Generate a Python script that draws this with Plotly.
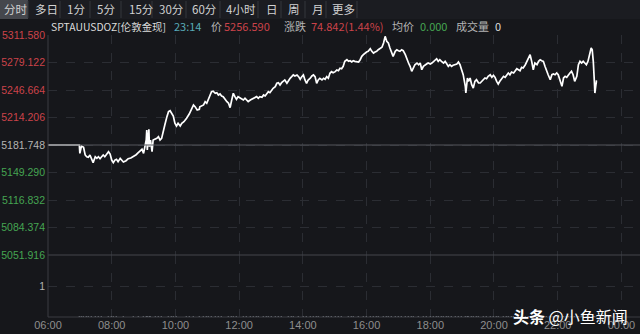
import plotly.graph_objects as go

# ---------------- data ----------------
trade_date = "2025-01-01"
times = [
    "06:00", "06:59", "07:00", "07:03", "07:07", "07:10", "07:13", "07:16", "07:19", "07:22",
    "07:25", "07:29", "07:32", "07:35", "07:38", "07:41", "07:44", "07:47", "07:51", "07:54",
    "07:57", "08:00", "08:03", "08:06", "08:09", "08:12", "08:16", "08:19", "08:22", "08:27",
    "08:31", "08:36", "08:41", "08:46", "08:50", "08:53", "08:57", "09:00", "09:03", "09:05",
    "09:06", "09:07", "09:10", "09:11", "09:13", "09:16", "09:18", "09:22", "09:25", "09:28",
    "09:31", "09:34", "09:37", "09:40", "09:44", "09:47", "09:50", "09:53", "09:56", "09:59",
    "10:02", "10:05", "10:09", "10:12", "10:16", "10:21", "10:26", "10:31", "10:34", "10:37",
    "10:41", "10:45", "10:46", "10:53", "10:56", "10:59", "11:02", "11:05", "11:08", "11:11",
    "11:15", "11:18", "11:21", "11:24", "11:27", "11:30", "11:33", "11:37", "11:40", "11:43",
    "11:46", "11:49", "11:52", "11:55", "11:58", "12:02", "12:05", "12:08", "12:11", "12:14",
    "12:17", "12:21", "12:24", "12:27", "12:30", "12:33", "12:36", "12:39", "12:43", "12:46",
    "12:49", "12:52", "12:55", "12:58", "13:01", "13:04", "13:08", "13:11", "13:14", "13:17",
    "13:20", "13:23", "13:26", "13:30", "13:33", "13:36", "13:39", "13:42", "13:45", "13:49",
    "13:52", "13:55", "13:58", "14:01", "14:04", "14:07", "14:10", "14:14", "14:17", "14:20",
    "14:23", "14:26", "14:29", "14:32", "14:36", "14:39", "14:42", "14:45", "14:48", "14:51",
    "14:54", "14:57", "15:01", "15:04", "15:07", "15:10", "15:13", "15:16", "15:19", "15:23",
    "15:26", "15:29", "15:32", "15:35", "15:38", "15:42", "15:45", "15:48", "15:51", "15:54",
    "15:57", "16:00", "16:03", "16:07", "16:10", "16:13", "16:16", "16:19", "16:22", "16:25",
    "16:29", "16:32", "16:35", "16:38", "16:41", "16:44", "16:47", "16:50", "16:54", "16:57",
    "17:00", "17:03", "17:06", "17:09", "17:13", "17:16", "17:19", "17:22", "17:25", "17:28",
    "17:31", "17:35", "17:38", "17:41", "17:44", "17:47", "17:50", "17:53", "17:56", "18:00",
    "18:03", "18:06", "18:09", "18:12", "18:15", "18:18", "18:21", "18:25", "18:28", "18:31",
    "18:34", "18:37", "18:40", "18:43", "18:47", "18:50", "18:53", "18:56", "18:59", "19:02",
    "19:06", "19:07", "19:10", "19:12", "19:15", "19:18", "19:21", "19:24", "19:27", "19:31",
    "19:34", "19:37", "19:40", "19:43", "19:46", "19:49", "19:53", "19:56", "19:59", "20:02",
    "20:05", "20:08", "20:11", "20:15", "20:18", "20:21", "20:24", "20:27", "20:30", "20:33",
    "20:37", "20:40", "20:43", "20:46", "20:49", "20:52", "20:55", "20:59", "21:02", "21:05",
    "21:08", "21:11", "21:14", "21:17", "21:21", "21:24", "21:27", "21:30", "21:33", "21:36",
    "21:39", "21:42", "21:46", "21:49", "21:52", "21:55", "21:58", "22:01", "22:04", "22:08",
    "22:11", "22:14", "22:17", "22:20", "22:23", "22:26", "22:29", "22:32", "22:36", "22:39",
    "22:42", "22:45", "22:48", "22:51", "22:54", "22:57", "23:00", "23:03", "23:05", "23:07",
    "23:09", "23:10", "23:12", "23:13", "23:14",
]
prices = [
    5181.748, 5181.748, 5171.9, 5180.5, 5179.0, 5170.0, 5167.9, 5167.2, 5170.0, 5164.0,
    5160.9, 5167.9, 5166.0, 5167.9, 5165.6, 5167.9, 5170.0, 5167.9, 5171.1, 5173.8,
    5171.1, 5164.0, 5160.9, 5164.0, 5164.9, 5162.0, 5166.0, 5164.0, 5161.7, 5163.2,
    5165.6, 5166.4, 5167.9, 5170.3, 5172.7, 5175.0, 5176.7, 5171.9, 5182.9, 5187.6,
    5199.5, 5175.8, 5200.3, 5179.7, 5187.6, 5173.8, 5187.6, 5188.4, 5189.6, 5191.5,
    5187.6, 5189.6, 5199.5, 5205.4, 5215.2, 5221.1, 5222.2, 5219.2, 5216.0, 5207.4,
    5204.2, 5207.4, 5204.2, 5207.4, 5209.3, 5213.3, 5218.3, 5225.1, 5229.0, 5227.0,
    5223.1, 5223.9, 5226.9, 5229.0, 5232.9, 5231.0, 5234.9, 5238.8, 5244.7, 5245.2,
    5242.8, 5243.5, 5240.8, 5242.0, 5239.6, 5238.8, 5235.7, 5232.9, 5231.0, 5225.8,
    5234.9, 5242.8, 5238.8, 5235.7, 5238.8, 5236.9, 5235.7, 5234.9, 5236.9, 5234.9,
    5232.9, 5234.9, 5235.7, 5236.9, 5238.1, 5238.8, 5236.9, 5238.8, 5238.1, 5240.8,
    5239.6, 5242.8, 5244.7, 5243.5, 5246.7, 5248.7, 5250.6, 5254.6, 5255.3, 5252.6,
    5255.3, 5256.5, 5258.5, 5254.6, 5258.5, 5260.5, 5262.4, 5264.4, 5263.2, 5264.4,
    5262.4, 5259.3, 5262.4, 5264.4, 5258.5, 5254.6, 5258.5, 5260.5, 5263.2, 5264.4,
    5262.4, 5254.6, 5258.5, 5260.5, 5258.5, 5260.5, 5259.3, 5262.4, 5260.5, 5266.4,
    5268.3, 5267.1, 5268.3, 5270.3, 5269.4, 5272.3, 5271.8, 5274.6, 5280.5, 5282.4,
    5280.5, 5281.2, 5279.7, 5281.2, 5280.5, 5280.5, 5279.7, 5282.4, 5286.4, 5288.3,
    5290.3, 5291.5, 5292.3, 5295.4, 5292.3, 5290.3, 5291.5, 5292.3, 5294.2, 5295.4,
    5297.1, 5302.1, 5310.0, 5304.1, 5302.1, 5296.2, 5290.3, 5286.4, 5292.3, 5294.2,
    5293.1, 5292.3, 5294.2, 5293.1, 5288.3, 5282.4, 5278.5, 5274.6, 5268.7, 5272.6,
    5276.5, 5278.5, 5276.5, 5278.5, 5270.6, 5274.6, 5276.5, 5277.3, 5278.5, 5277.3,
    5278.5, 5280.5, 5282.4, 5283.6, 5280.5, 5282.4, 5280.5, 5278.5, 5280.5, 5277.3,
    5274.6, 5276.5, 5274.6, 5275.8, 5276.5, 5277.3, 5279.7, 5276.5, 5270.6, 5264.7,
    5251.0, 5243.1, 5260.8, 5256.9, 5260.8, 5252.9, 5249.0, 5256.9, 5258.8, 5254.9,
    5254.9, 5256.9, 5257.6, 5260.8, 5260.0, 5262.8, 5264.7, 5261.6, 5264.0, 5261.6,
    5256.9, 5253.7, 5256.9, 5260.8, 5262.8, 5261.6, 5264.7, 5266.7, 5264.7, 5267.9,
    5266.7, 5269.4, 5271.8, 5270.6, 5269.4, 5273.4, 5272.6, 5276.5, 5280.5, 5285.3,
    5288.3, 5280.5, 5270.6, 5278.5, 5276.5, 5280.5, 5282.4, 5281.2, 5280.5, 5274.6,
    5268.7, 5264.7, 5258.8, 5264.7, 5265.5, 5264.7, 5266.7, 5264.7, 5258.8, 5251.0,
    5260.8, 5262.8, 5261.6, 5264.7, 5266.7, 5268.7, 5264.7, 5256.9, 5262.8, 5276.5,
    5280.5, 5278.5, 5280.5, 5278.5, 5276.5, 5280.5, 5290.3, 5296.2, 5294.2, 5280.5,
    5256.9, 5243.1, 5252.9, 5256.9, 5256.59,
]
prev_close = 5181.748
price_ticks = [5051.916, 5084.374, 5116.832, 5149.290, 5181.748,
               5214.206, 5246.664, 5279.122, 5311.580]
volume_ticks = [1]
x_ticks = ["06:00", "08:00", "10:00", "12:00", "14:00", "16:00",
           "18:00", "20:00", "22:00", "00:00"]

tabs = ["分时", "多日", "1分", "5分", "15分", "30分", "60分", "4小时", "日", "周", "月", "更多"]
symbol = "SPTAUUSDOZ[伦敦金现]"
quote_time = "23:14"
last_price = "5256.590"
change = "74.842(1.44%)"
avg_price = "0.000"
volume = "0"

# ---------------- style ----------------
BG = "#16171b"
GRID = "#2b2d33"
RED = "#cc434a"
GREEN = "#45a552"
GRAY = "#b4b4b4"
W, H = 640, 334
L, R, T, B = 48, 0, 35, 17
PW, PH = W - L - R, H - T - B
vol_frac = 62 / PH


def px(x):
    return (x - L) / PW


def py(y):
    return (H - B - y) / PH


xs = [f"{trade_date} {t}" for t in times]

fig = go.Figure()
fig.add_trace(go.Scatter(x=xs, y=prices, mode="lines",
                         line=dict(color="#ffffff", width=1.7),
                         xaxis="x", yaxis="y", hoverinfo="skip"))
fig.add_trace(go.Bar(x=xs, y=[0] * len(xs), xaxis="x2", yaxis="y2",
                     marker_color=RED, hoverinfo="skip"))


def tick_color(v):
    if abs(v - prev_close) < 1e-6:
        return GRAY
    return RED if v > prev_close else GREEN


price_text = [f'<span style="color:{tick_color(v)}">{v:.3f}</span>' for v in price_ticks]

x_range = [f"{trade_date} 06:00", "2025-01-02 00:35"]
tickvals_x = [f"{trade_date} {t}" if t != "00:00" else "2025-01-02 00:00" for t in x_ticks]

axis_common = dict(showgrid=True, gridcolor=GRID, griddash="dash", gridwidth=1,
                   zeroline=False, showline=False, ticks="")

fig.update_layout(
    width=W, height=H, margin=dict(l=L, r=R, t=T, b=B),
    paper_bgcolor=BG, plot_bgcolor=BG, showlegend=False,
    font=dict(family="Noto Sans CJK SC, Noto Sans, sans-serif", color=GRAY, size=11),
    xaxis=dict(type="date", range=x_range, domain=[0, 1], anchor="y",
               tickvals=tickvals_x, showticklabels=False, **axis_common),
    xaxis2=dict(type="date", range=x_range, domain=[0, 1], anchor="y2", matches="x",
                tickvals=tickvals_x, ticktext=x_ticks, showticklabels=True,
                tickfont=dict(family="Liberation Sans, Arial, sans-serif", size=11, color="#8e8e8e"),
                **axis_common),
    yaxis=dict(domain=[vol_frac, 1], range=[price_ticks[0], price_ticks[-1]],
               tickvals=price_ticks, ticktext=price_text, anchor="x",
               tickfont=dict(family="Liberation Sans, Arial, sans-serif", size=10.5),
               ticklabelstandoff=2, **axis_common),
    yaxis2=dict(domain=[0, vol_frac], range=[0, 2], tickvals=volume_ticks,
                ticktext=[str(v) for v in volume_ticks], anchor="x2",
                tickfont=dict(family="Liberation Sans, Arial, sans-serif", size=10.5, color=GRAY),
                ticklabelstandoff=2, **axis_common),
    bargap=0,
)

shapes = []
# previous close line and panel separator
shapes.append(dict(type="line", xref="x domain", yref="y", x0=0, x1=1,
                   y0=prev_close, y1=prev_close, line=dict(color="#55575c", width=1)))
shapes.append(dict(type="line", xref="paper", yref="paper", x0=0, x1=1,
                   y0=vol_frac, y1=vol_frac, line=dict(color="#45474c", width=1)))
# axis frame
shapes.append(dict(type="line", xref="paper", yref="paper", x0=0, x1=0, y0=0, y1=1,
                   line=dict(color="#3a3c42", width=1)))
shapes.append(dict(type="line", xref="paper", yref="paper", x0=0, x1=1, y0=0, y1=0,
                   line=dict(color="#3a3c42", width=1)))
# tab bar background
shapes.append(dict(type="rect", xref="paper", yref="paper", x0=px(0), x1=px(640),
                   y0=py(19), y1=py(0), fillcolor="#1b1c21", line=dict(width=0), layer="below"))
shapes.append(dict(type="rect", xref="paper", yref="paper", x0=px(0), x1=px(28),
                   y0=py(19), y1=py(0), fillcolor="#45474d", line=dict(width=0)))

annotations = []
tab_left = [2, 33, 65, 95, 127, 157, 190, 224, 264, 286, 310, 330]
tab_sep = [28, 60, 90, 121, 152, 186, 220, 258, 281, 305, 326, 357]
for s in tab_sep:
    shapes.append(dict(type="line", xref="paper", yref="paper", x0=px(s), x1=px(s),
                       y0=py(18), y1=py(1), line=dict(color="#34363c", width=1)))
for tx, lab in zip(tab_left, tabs):
    annotations.append(dict(text=lab, xref="paper", yref="paper", x=px(tx), y=py(9.5),
                            xanchor="left", yanchor="middle", showarrow=False,
                            font=dict(size=11.5, color="#d2d2d2")))

header = [
    (49, symbol, "#dcdcdc", 10.4), (172, quote_time, "#58aab6", 11), (209, "价", GRAY, 11),
    (222, last_price, RED, 11), (282, "涨跌", GRAY, 11), (309, change, RED, 11),
    (390, "均价", GRAY, 11), (418, avg_price, GREEN, 11), (454, "成交量", GRAY, 11),
    (493, volume, "#dcdcdc", 11),
]
for hx, txt, col, fs in header:
    annotations.append(dict(text=txt, xref="paper", yref="paper", x=px(hx), y=py(26.5),
                            xanchor="left", yanchor="middle", showarrow=False,
                            font=dict(size=fs, color=col)))

annotations.append(dict(text="<b>头条</b> @小鱼新闻", xref="paper", yref="paper",
                        x=px(630), y=py(316), xanchor="right", yanchor="middle",
                        showarrow=False, font=dict(size=16, color="#ffffff")))

fig.update_layout(shapes=shapes, annotations=annotations)
fig.write_html("out.html")
